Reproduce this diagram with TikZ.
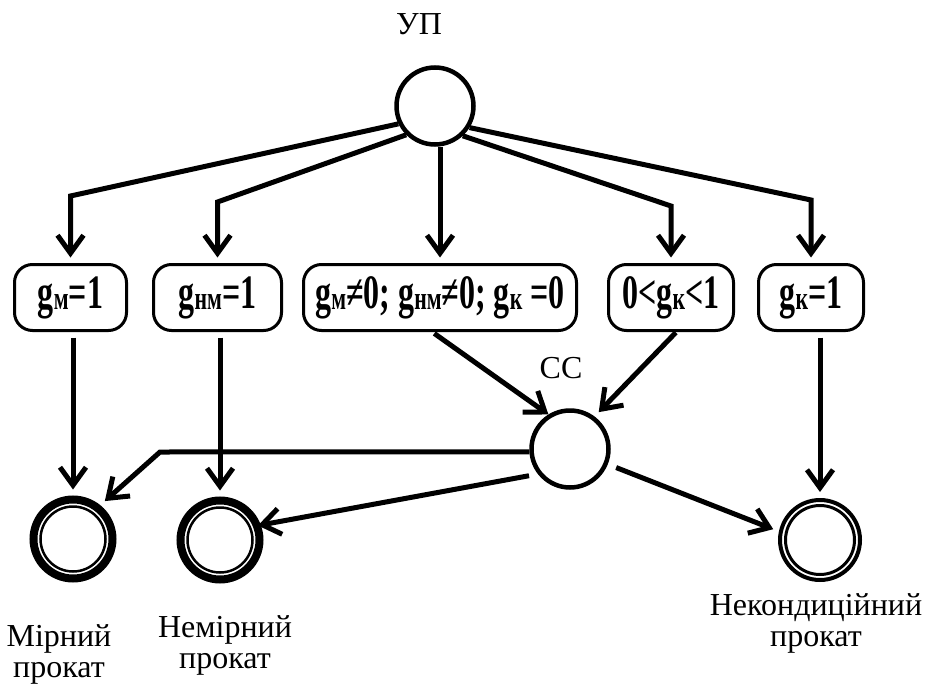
\documentclass[tikz,border=0pt]{standalone}
\usepackage{fontspec}
\setmainfont{Liberation Serif}
\usepackage{graphicx}
\usetikzlibrary{arrows.meta}
\newcommand\gsub[1]{\raisebox{-1.5pt}{\scalebox{0.68}{#1}}}
\newcommand\btxt[1]{\scalebox{0.8}[1.2]{#1}}
\begin{document}
\begin{tikzpicture}[x=1pt,y=-1pt,
  arr/.style={line width=5pt,-{Straight Barb[length=18pt,width=26pt]}},
  state/.style={circle,draw,line width=4.5pt,minimum size=77pt,inner sep=0pt},
  finalA/.style={circle,draw,line width=8pt,minimum size=79pt,inner sep=0pt,outer sep=10pt},
  finalB/.style={circle,draw,line width=4pt,minimum size=80pt,inner sep=0pt,outer sep=8pt},
  cond/.style={draw,line width=3pt,rounded corners=18pt,inner sep=0pt,minimum height=66pt,outer sep=7pt,
    font=\fontsize{40}{40}\selectfont\bfseries},
  lbl/.style={font=\fontsize{32}{31}\selectfont,align=center,inner sep=0pt}]
\useasboundingbox (0,0) rectangle (926,690);

% state nodes
\node[state] (UP) at (435,106) {};
\node[state] (CC) at (570,449) {};
\node[finalA] (M1) at (73,539) {};
\node[finalA] (N1) at (220,540) {};
\node[finalB] (K1) at (820,540) {};
\draw[line width=2.5pt] (M1.center) circle[radius=32.5];
\draw[line width=2.5pt] (N1.center) circle[radius=32.5];
\draw[line width=3pt] (K1.center) circle[radius=34.5];

% condition boxes
\node[cond,minimum width=112pt] (B1) at (70.5,297.5) {\btxt{g\gsub{м}=1}};
\node[cond,minimum width=128pt] (B2) at (217.5,297.5) {\btxt{g\gsub{нм}=1}};
\node[cond,minimum width=273pt] (B3) at (440,297.5) {\btxt{g\gsub{м}≠0; g\gsub{нм}≠0; g\gsub{к} =0}};
\node[cond,minimum width=125pt] (B4) at (671,297.5) {\btxt{0<g\gsub{к}<1}};
\node[cond,minimum width=105pt] (B5) at (811,297.5) {\btxt{g\gsub{к}=1}};

% labels
\node[lbl,anchor=base] (lUP) at (419,35) {УП};
\node[lbl,anchor=base] (lCC) at (561,378) {СС};
\node[lbl,anchor=base] (lM) at (59,677) {Мірний\\прокат};
\node[lbl,anchor=base] (lN) at (225,668) {Немірний\\прокат};
\node[lbl,anchor=base] (lK) at (816,646) {Некондиційний\\прокат};

% connectors from УП
\draw[arr] (UP.206) -- (B1.north |- 0,196) -- (B1.north);
\draw[arr] (UP.225) -- (B2.north |- 0,202) -- (B2.north);
\draw[arr] (UP.south -| B3.north) -- (B3.north);
\draw[arr] (UP.313) -- (B4.north |- 0,206) -- (B4.north);
\draw[arr] (UP.328) -- (B5.north |- 0,200) -- (B5.north);

% connectors from boxes
\draw[arr] (B1.south -| M1.north) -- (M1.north);
\draw[arr] (B2.south -| N1.north) -- (N1.north);
\draw[arr] (B5.south -| K1.north) -- (K1.north);
\draw[arr,shorten <=-7pt] (B3.south) -- (CC.122);
\draw[arr,shorten <=-7pt,shorten >=6pt] (B4.south) -- (CC.53);

% connectors from СС
\coordinate (kM) at (160,452);
\draw[arr] (CC.184) -- (kM) -- (M1.50);
\draw[arr,shorten <=9pt,shorten >=-9pt] (CC.218) -- (N1.19);
\draw[arr,shorten <=9pt] (CC.338) -- (K1.167);
\end{tikzpicture}
\end{document}
